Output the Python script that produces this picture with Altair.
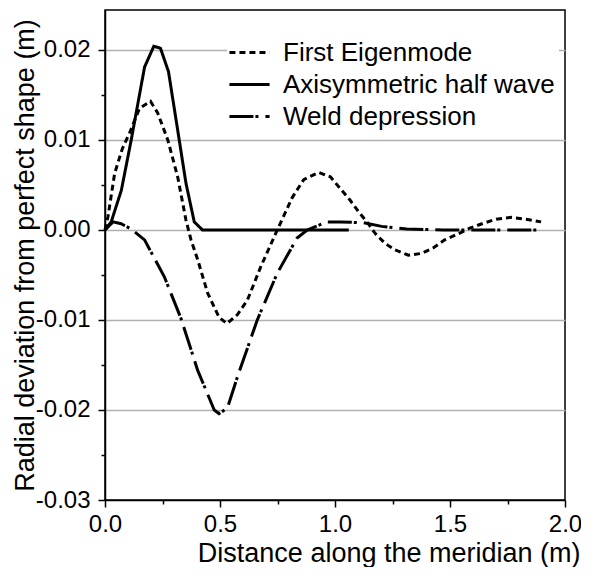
import altair as alt
import pandas as pd

series_names = ["First Eigenmode", "Axisymmetric half wave", "Weld depression"]

eig_x = [0, 0.013, 0.042, 0.075, 0.107, 0.150, 0.198, 0.229, 0.273, 0.316, 0.352, 0.374,
         0.403, 0.446, 0.496, 0.530, 0.576, 0.619, 0.677, 0.749, 0.814, 0.864, 0.929, 0.980,
         1.023, 1.066, 1.103, 1.139, 1.175, 1.218, 1.261, 1.319, 1.377, 1.427, 1.477, 1.530,
         1.586, 1.651, 1.701, 1.766, 1.831, 1.896]
eig_y = [0, 0.0015, 0.0063, 0.0090, 0.0108, 0.0135, 0.0143, 0.0130, 0.0100, 0.0059, 0.0011,
         -0.0011, -0.0033, -0.0070, -0.0097, -0.0104, -0.0094, -0.0078, -0.0041, 0.0, 0.0036,
         0.0056, 0.0064, 0.0059, 0.0046, 0.0033, 0.0020, 0.0009, -0.0004, -0.0015, -0.0022,
         -0.0028, -0.0026, -0.0020, -0.0011, -0.0005, 0.0002, 0.0008, 0.0012, 0.0014, 0.0012,
         0.0009]

axi_x = [0, 0.027, 0.071, 0.114, 0.172, 0.212, 0.241, 0.276, 0.316, 0.352, 0.388, 0.424, 1.06]
axi_y = [0, 0.0009, 0.0044, 0.0100, 0.0181, 0.0204, 0.0202, 0.0176, 0.0111, 0.0052, 0.0009,
         0.0, 0.0]

weld_x = [0, 0.035, 0.070, 0.114, 0.172, 0.258, 0.330, 0.403, 0.475, 0.496, 0.532, 0.576,
          0.662, 0.749, 0.835, 0.879, 0.965, 1.023, 1.124, 1.203, 1.312, 1.470, 1.600, 1.750,
          1.896]
weld_y = [0, 0.0009, 0.0007, 0.0001, -0.0011, -0.0052, -0.0098, -0.0156, -0.0200, -0.0204,
          -0.0198, -0.0163, -0.0100, -0.0048, -0.0009, 0.0, 0.0009, 0.0009, 0.0008, 0.0004,
          0.0001, 0.0, 0.0, 0.0, 0.0]

y_ticks = [-0.03, -0.025, -0.02, -0.015, -0.01, -0.005, 0.0, 0.005, 0.01, 0.015, 0.02]
x_ticks = [0.0, 0.25, 0.5, 0.75, 1.0, 1.25, 1.5, 1.75, 2.0]

rows = []
for name, xs, ys in zip(series_names, [eig_x, axi_x, weld_x], [eig_y, axi_y, weld_y]):
    for i, (xv, yv) in enumerate(zip(xs, ys)):
        rows.append({"series": name, "x": xv, "y": yv, "order": i})
df = pd.DataFrame(rows)

FONT = "Liberation Sans"
TICK_FS = 24
TITLE_FS = 27
LEGEND_FS = 26

major_y = "abs(datum.value*100 - round(datum.value*100)) < 0.001"
major_x = "abs(datum.value*2 - round(datum.value*2)) < 0.001"

chart = alt.Chart(df).mark_line(strokeWidth=3, color="black", strokeCap="butt").encode(
    x=alt.X(
        "x:Q",
        scale=alt.Scale(domain=[0, 2], nice=False, zero=False),
        axis=alt.Axis(
            values=x_ticks,
            title="Distance along the meridian (m)",
            labelExpr=f"({major_x}) ? format(datum.value, '.1f') : ''",
            tickSize={"condition": {"test": major_x, "value": 7}, "value": 4},
            grid=False,
            labelFlush=False,
            titleAnchor="end",
            titleAlign="right",
            titleBaseline="alphabetic",
            titleX=475,
            titleY=61,
            labelPadding=5,
        ),
    ),
    y=alt.Y(
        "y:Q",
        scale=alt.Scale(domain=[-0.03, 0.02444], nice=False, zero=False),
        axis=alt.Axis(
            values=y_ticks,
            title="Radial deviation from perfect shape (m)",
            labelExpr=f"({major_y}) ? ((datum.value < -0.0001 ? '-' : '') + format(abs(datum.value), '.2f')) : ''",
            tickSize={"condition": {"test": major_y, "value": 7}, "value": 4},
            gridOpacity={"condition": {"test": f"({major_y}) && datum.value > -0.025", "value": 1}, "value": 0},
            labelFlush=False,
            titleBaseline="alphabetic",
            titleX=-72,
            labelPadding=8,
        ),
    ),
    strokeDash=alt.StrokeDash(
        "series:N",
        scale=alt.Scale(domain=series_names, range=[[6, 4], [1, 0], [24, 2, 3, 7]]),
        legend=alt.Legend(
            title=None,
            orient="none",
            legendX=122,
            legendY=20,
            symbolType="M-1.18,0H1.18",
            symbolSize=1156,
            symbolStrokeWidth=3,
            symbolStrokeColor="black",
            labelFontSize=LEGEND_FS,
            labelFont=FONT,
            labelColor="black",
            labelOffset=15,
            labelLimit=600,
            fillColor="white",
            padding=4,
            rowPadding=0,
        ),
    ),
    order="order:Q",
).properties(
    width=460,
    height=490,
    autosize=alt.AutoSizeParams(type="none"),
    padding={"left": 97, "top": 2, "right": 16, "bottom": 67},
).configure_view(
    stroke="black", strokeWidth=1.5
).configure_axis(
    labelFont=FONT, titleFont=FONT, labelFontSize=TICK_FS, titleFontSize=TITLE_FS,
    labelColor="black", titleColor="black", titleFontWeight="normal",
    domainColor="black", domainWidth=1.5, tickColor="black", tickWidth=1.5,
    gridColor="#b0b0b0", gridWidth=1.5,
)

chart.save("out.html", embed_options={"renderer": "svg", "actions": False})
